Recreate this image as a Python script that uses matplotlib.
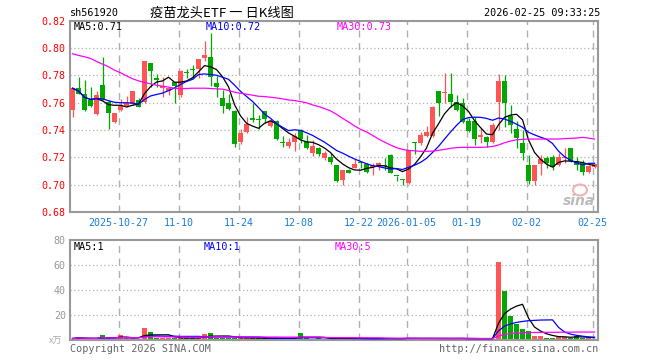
import numpy as np
import pandas as pd
import matplotlib
matplotlib.use('Agg')
import matplotlib.pyplot as plt
from matplotlib.patches import Ellipse

plt.rcParams['font.family'] = ['DejaVu Sans Mono']

# ---------------- data ----------------
opens = [0.7547, 0.7706, 0.7665, 0.7620, 0.7518, 0.7731, 0.7608, 0.7459, 0.7547, 0.7577,
         0.7591, 0.7620, 0.7608, 0.7890, 0.7780, 0.7706, 0.7682, 0.7748, 0.7657, 0.7818,
         0.7843, 0.7846, 0.7927, 0.7934, 0.7743, 0.7633, 0.7601, 0.7540, 0.7310, 0.7388,
         0.7486, 0.7476, 0.7540, 0.7432, 0.7466, 0.7310, 0.7285, 0.7315, 0.7400, 0.7310,
         0.7234, 0.7266, 0.7192, 0.7204, 0.7143, 0.7033, 0.7106, 0.7124, 0.7160, 0.7150,
         0.7126, 0.7126, 0.7143, 0.7217, 0.7063, 0.7038, 0.7013, 0.7310, 0.7302, 0.7356,
         0.7356, 0.7687, 0.7668, 0.7665, 0.7608, 0.7601, 0.7469, 0.7469, 0.7352, 0.7351,
         0.7315, 0.7608, 0.7762, 0.7503, 0.7408, 0.7302, 0.7143, 0.7028, 0.7150, 0.7192,
         0.7199, 0.7143, 0.7197, 0.7266, 0.7175, 0.7155, 0.7094, 0.7126]
highs = [0.7706, 0.7787, 0.7767, 0.7714, 0.7682, 0.7934, 0.7616, 0.7523, 0.7625, 0.7650,
         0.7687, 0.7633, 0.7907, 0.7890, 0.7811, 0.7785, 0.7718, 0.7755, 0.7841, 0.7846,
         0.7878, 0.7922, 0.8054, 0.8113, 0.7792, 0.7694, 0.7665, 0.7547, 0.7408, 0.7493,
         0.7601, 0.7510, 0.7542, 0.7479, 0.7474, 0.7356, 0.7339, 0.7380, 0.7405, 0.7364,
         0.7327, 0.7273, 0.7248, 0.7229, 0.7146, 0.7111, 0.7114, 0.7185, 0.7168, 0.7160,
         0.7160, 0.7168, 0.7192, 0.7224, 0.7063, 0.7038, 0.7253, 0.7310, 0.7388, 0.7430,
         0.7577, 0.7687, 0.7816, 0.7816, 0.7657, 0.7633, 0.7486, 0.7493, 0.7413, 0.7356,
         0.7449, 0.7811, 0.7799, 0.7584, 0.7469, 0.7400, 0.7217, 0.7143, 0.7217, 0.7209,
         0.7217, 0.7234, 0.7266, 0.7266, 0.7199, 0.7180, 0.7143, 0.7150]
lows = [0.7498, 0.7660, 0.7540, 0.7570, 0.7510, 0.7616, 0.7410, 0.7450, 0.7542, 0.7570,
        0.7584, 0.7567, 0.7600, 0.7714, 0.7718, 0.7645, 0.7657, 0.7600, 0.7645, 0.7780,
        0.7772, 0.7780, 0.7902, 0.7723, 0.7645, 0.7523, 0.7547, 0.7278, 0.7297, 0.7381,
        0.7461, 0.7405, 0.7454, 0.7425, 0.7327, 0.7273, 0.7266, 0.7248, 0.7302, 0.7261,
        0.7209, 0.7209, 0.7180, 0.7150, 0.7021, 0.6996, 0.7082, 0.7119, 0.7119, 0.7087,
        0.7070, 0.7111, 0.7106, 0.7082, 0.7028, 0.6996, 0.7008, 0.7224, 0.7290, 0.7351,
        0.7351, 0.7503, 0.7601, 0.7572, 0.7542, 0.7454, 0.7388, 0.7290, 0.7302, 0.7273,
        0.7302, 0.7400, 0.7425, 0.7376, 0.7266, 0.7180, 0.7004, 0.6996, 0.7070, 0.7119,
        0.7111, 0.7136, 0.7155, 0.7168, 0.7106, 0.7070, 0.7087, 0.7119]
closes = [0.7706, 0.7665, 0.7547, 0.7577, 0.7657, 0.7620, 0.7528, 0.7523, 0.7577, 0.7596,
          0.7682, 0.7571, 0.7907, 0.7829, 0.7767, 0.7723, 0.7706, 0.7723, 0.7829, 0.7814,
          0.7841, 0.7922, 0.7951, 0.7785, 0.7714, 0.7577, 0.7554, 0.7297, 0.7376, 0.7442,
          0.7474, 0.7474, 0.7479, 0.7469, 0.7334, 0.7302, 0.7310, 0.7356, 0.7334, 0.7266,
          0.7283, 0.7224, 0.7234, 0.7168, 0.7028, 0.7106, 0.7087, 0.7150, 0.7158, 0.7094,
          0.7143, 0.7155, 0.7136, 0.7087, 0.7062, 0.7036, 0.7253, 0.7302, 0.7364, 0.7388,
          0.7572, 0.7601, 0.7670, 0.7608, 0.7547, 0.7461, 0.7395, 0.7332, 0.7354, 0.7310,
          0.7437, 0.7762, 0.7601, 0.7437, 0.7339, 0.7234, 0.7028, 0.7143, 0.7185, 0.7160,
          0.7126, 0.7199, 0.7199, 0.7175, 0.7143, 0.7094, 0.7136, 0.7150]
ma30_price = [0.7958, 0.7946, 0.7936, 0.7924, 0.7902, 0.7882, 0.7863, 0.7838, 0.7819, 0.7797,
              0.7775, 0.7760, 0.7748, 0.7738, 0.7728, 0.7721, 0.7714, 0.7706, 0.7701, 0.7704,
              0.7706, 0.7706, 0.7706, 0.7704, 0.7701, 0.7699, 0.7689, 0.7677, 0.7669, 0.7662,
              0.7655, 0.7647, 0.7645, 0.7640, 0.7635, 0.7628, 0.7620, 0.7616, 0.7608, 0.7599,
              0.7584, 0.7572, 0.7557, 0.7540, 0.7515, 0.7486, 0.7459, 0.7430, 0.7405, 0.7386,
              0.7361, 0.7334, 0.7312, 0.7290, 0.7271, 0.7258, 0.7251, 0.7248, 0.7244, 0.7244,
              0.7246, 0.7251, 0.7258, 0.7266, 0.7271, 0.7273, 0.7273, 0.7273, 0.7273, 0.7275,
              0.7280, 0.7290, 0.7307, 0.7319, 0.7329, 0.7332, 0.7334, 0.7334, 0.7334, 0.7334,
              0.7334, 0.7334, 0.7337, 0.7339, 0.7341, 0.7346, 0.7341, 0.7334]
volumes = [1.2, 2.1, 1.0, 1.0, 1.2, 4.0, 1.3, 1.1, 4.0, 1.3,
           1.6, 1.2, 9.6, 6.4, 1.8, 1.6, 1.6, 1.8, 1.7, 1.5,
           1.5, 1.7, 4.8, 5.9, 1.8, 1.8, 1.6, 1.9, 1.8, 1.5,
           1.3, 1.4, 1.3, 1.2, 1.5, 1.3, 1.2, 1.8, 5.6, 1.3,
           1.2, 1.3, 1.1, 1.2, 1.4, 1.2, 1.1, 1.0, 1.2, 1.1,
           1.0, 1.1, 1.2, 1.3, 1.0, 1.1, 2.0, 1.2, 1.1, 1.0,
           1.1, 1.6, 1.2, 1.0, 1.1, 1.2, 1.1, 1.0, 1.1, 1.0,
           1.2, 62.6, 39.5, 19.3, 12.9, 8.6, 7.4, 3.5, 3.5, 1.9,
           1.9, 2.7, 2.7, 1.8, 3.2, 2.0, 1.3, 1.0]
tick_index = [8, 18, 28, 38, 48, 56, 66, 76, 87]
tick_labels = ['2025-10-27', '11-10', '11-24', '12-08', '12-22', '2026-01-05', '01-19', '02-02', '02-25']
price_ticks = [0.68, 0.70, 0.72, 0.74, 0.76, 0.78, 0.80, 0.82]
vol_ticks = [20, 40, 60, 80]

# ---------------- style ----------------
RED = '#ff5555'
GREEN = '#00a800'
GRID = '#b0b0b0'
BORDER = '#999999'
DATEBLUE = '#1a7fd4'

W, H = 660, 360
fig = plt.figure(figsize=(6.6, 3.6), dpi=100)
fig.patch.set_facecolor('white')

def fx(x):
    return x / W

def fy(y):
    return 1 - y / H

ax = fig.add_axes([fx(70), fy(212), fx(598) - fx(70), fy(20.7) - fy(212)])
axv = fig.add_axes([fx(70), fy(340), fx(598) - fx(70), fy(240) - fy(340)])

o = np.array(opens); h = np.array(highs); l = np.array(lows); c = np.array(closes)
v = np.array(volumes)
n = len(o)
x = np.arange(n)
up = c >= o
cols = np.where(up, RED, GREEN)

ma5 = pd.Series(c).rolling(5, min_periods=1).mean().values
ma10 = pd.Series(c).rolling(10, min_periods=1).mean().values
vma5 = pd.Series(v).rolling(5, min_periods=1).mean().values
vma10 = pd.Series(v).rolling(10, min_periods=1).mean().values
vma30 = pd.Series(v).rolling(30, min_periods=1).mean().values

gx = np.array(tick_index) - 0.3

for a in (ax, axv):
    a.set_xlim(-0.42, n - 0.42)
    for s in a.spines.values():
        s.set_color(BORDER)
        s.set_linewidth(1.5)
    for p in gx:
        a.axvline(p, color=GRID, ls=(0, (5, 4)), lw=1.0, zorder=0)

# price panel
ax.set_ylim(0.68, 0.82)
for yv in price_ticks[1:-1]:
    ax.axhline(yv, color=GRID, ls=(0, (1, 2)), lw=0.9, zorder=0)
ax.vlines(x, l, h, colors=cols, lw=0.9, zorder=2)
body_bot = np.minimum(o, c)
body_h = np.maximum(np.abs(c - o), 0.0008)
ax.bar(x, body_h, bottom=body_bot, width=0.8, color=cols, linewidth=0, zorder=3)
ax.plot(x, ma5, color='black', lw=0.9, zorder=4)
ax.plot(x, ma10, color='#0000ff', lw=0.9, zorder=4)
ax.plot(x, ma30_price, color='#ff00ff', lw=0.9, zorder=4)
ax.set_yticks(price_ticks)
ax.set_yticklabels(['%.2f' % t for t in price_ticks])
ax.tick_params(axis='y', length=0, pad=3, labelcolor='#ff0000', labelsize=7.2)
ax.set_xticks(gx)
ax.set_xticklabels(tick_labels)
ax.tick_params(axis='x', length=0, pad=4, labelcolor=DATEBLUE, labelsize=7.2)

# volume panel
axv.set_ylim(0, 80)
for yv in vol_ticks[:-1]:
    axv.axhline(yv, color=GRID, ls=(0, (1, 2)), lw=0.9, zorder=0)
axv.bar(x, v, width=0.8, color=cols, linewidth=0, zorder=2)
axv.plot(x, vma5, color='black', lw=0.9, zorder=3)
axv.plot(x, vma10, color='#0000ff', lw=0.9, zorder=3)
axv.plot(x, vma30, color='#ff00ff', lw=0.9, zorder=3)
axv.set_yticks(vol_ticks)
axv.set_yticklabels([str(t) for t in vol_ticks])
axv.tick_params(axis='y', length=0, pad=3, labelcolor='#999999', labelsize=7.2)
axv.set_xticks([])

# header texts
fig.text(fx(70), fy(13), 'sh561920', fontsize=7.3, color='black', va='center', ha='left')
fig.text(fx(150), fy(13), '疫苗龙头ETF 一 日K线图', fontsize=9.5, color='black', va='center', ha='left',
         family=['Noto Sans CJK SC', 'DejaVu Sans'])
fig.text(fx(600), fy(13), '2026-02-25 09:33:25', fontsize=7.3, color='black', va='center', ha='right')

# MA labels
fig.text(fx(74), fy(27), 'MA5:0.71', fontsize=7.3, color='black', va='center')
fig.text(fx(206), fy(27), 'MA10:0.72', fontsize=7.3, color='#0000ff', va='center')
fig.text(fx(337), fy(27), 'MA30:0.73', fontsize=7.3, color='#ff00ff', va='center')
fig.text(fx(74), fy(247), 'MA5:1', fontsize=7.3, color='black', va='center')
fig.text(fx(204), fy(247), 'MA10:1', fontsize=7.3, color='#0000ff', va='center')
fig.text(fx(335), fy(247), 'MA30:5', fontsize=7.3, color='#ff00ff', va='center')

# unit label and footer
fig.text(fx(56), fy(341), 'x万', fontsize=6.5, color='#aaaaaa', va='center', ha='center',
         family=['Noto Sans CJK SC', 'DejaVu Sans'])
fig.text(fx(70), fy(349), 'Copyright 2026 SINA.COM', fontsize=7.3, color='#666666', va='center', ha='left')
fig.text(fx(598), fy(349), 'http://finance.sina.com.cn', fontsize=7.3, color='#666666', va='center', ha='right')

# watermark
fig.patches.append(Ellipse((fx(580), fy(190)), 14 / W, 11 / H, transform=fig.transFigure,
                           facecolor='none', edgecolor='#f2a0a0', lw=1.5, alpha=0.8))
fig.text(fx(579), fy(201), 'sina', fontsize=10, color='#bbbbbb', va='center', ha='center',
         style='italic', weight='bold', family=['DejaVu Sans'])

fig.savefig('out.png', dpi=100)
